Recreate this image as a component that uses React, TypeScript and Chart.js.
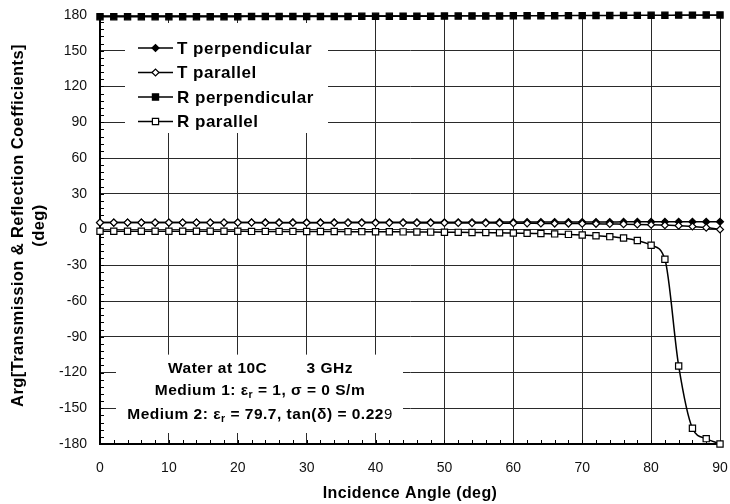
import React, { useEffect, useRef } from 'react';
import { Chart, registerables } from 'chart.js';

Chart.register(...registerables);

// ---------- data ----------
const angles = [0, 2, 4, 6, 8, 10, 12, 14, 16, 18, 20, 22, 24, 26, 28, 30, 32, 34, 36, 38, 40, 42, 44, 46, 48, 50, 52, 54, 56, 58, 60, 62, 64, 66, 68, 70, 72, 74, 76, 78, 80, 82, 84, 86, 88, 90];

const tPerp = [5.8, 5.8, 5.8, 5.8, 5.8, 5.8, 5.8, 5.8, 5.8, 5.8, 5.9, 5.9, 5.9, 5.9, 5.9, 5.9, 5.9, 5.9, 6.0, 6.0, 6.0, 6.0, 6.0, 6.0, 6.1, 6.1, 6.1, 6.1, 6.1, 6.2, 6.2, 6.2, 6.2, 6.3, 6.3, 6.3, 6.3, 6.3, 6.4, 6.4, 6.4, 6.4, 6.5, 6.5, 6.5, 6.5];

const tPar = [5.8, 5.8, 5.8, 5.8, 5.8, 5.8, 5.8, 5.8, 5.8, 5.8, 5.8, 5.8, 5.7, 5.7, 5.7, 5.7, 5.7, 5.7, 5.6, 5.6, 5.6, 5.6, 5.6, 5.5, 5.5, 5.5, 5.5, 5.4, 5.4, 5.3, 5.3, 5.2, 5.1, 5.0, 5.0, 4.9, 4.8, 4.6, 4.5, 4.3, 4.0, 3.6, 3.2, 2.5, 1.6, 0.0];

const rPerp = [178.6, 178.6, 178.6, 178.6, 178.6, 178.6, 178.6, 178.6, 178.6, 178.6, 178.6, 178.7, 178.7, 178.7, 178.7, 178.8, 178.8, 178.8, 178.8, 178.9, 178.9, 178.9, 179.0, 179.0, 179.0, 179.1, 179.1, 179.2, 179.2, 179.2, 179.3, 179.3, 179.4, 179.4, 179.5, 179.5, 179.6, 179.6, 179.7, 179.7, 179.8, 179.8, 179.9, 179.9, 180.0, 180.0];

const rPar = [-1.4, -1.4, -1.4, -1.4, -1.5, -1.5, -1.5, -1.5, -1.5, -1.5, -1.5, -1.6, -1.6, -1.6, -1.6, -1.7, -1.7, -1.7, -1.8, -1.8, -1.9, -1.9, -2.0, -2.1, -2.2, -2.3, -2.4, -2.5, -2.6, -2.8, -2.9, -3.2, -3.4, -3.7, -4.1, -4.6, -5.2, -6.0, -7.2, -9.3, -13.2, -25.0, -114.5, -166.8, -175.5, -180.0];

const seriesNames = ['T perpendicular', 'T parallel', 'R perpendicular', 'R parallel'];
const xTitle = 'Incidence Angle (deg)';
const yTitleLines = ['Arg[Transmission & Reflection Coefficients]', '(deg)'];
const noteTitle = ['Water at 10C', '3 GHz'];

const FONT = '"Liberation Sans", Arial, Helvetica, sans-serif';

type Marker = { style: 'diamond' | 'square'; filled: boolean };
const markers: Marker[] = [
  { style: 'diamond', filled: true },
  { style: 'diamond', filled: false },
  { style: 'square', filled: true },
  { style: 'square', filled: false },
];

function drawMarker(ctx: CanvasRenderingContext2D, m: Marker, x: number, y: number) {
  ctx.save();
  ctx.beginPath();
  if (m.style === 'diamond') {
    const r = 3.5;
    ctx.moveTo(x - r, y);
    ctx.lineTo(x, y - r);
    ctx.lineTo(x + r, y);
    ctx.lineTo(x, y + r);
    ctx.closePath();
  } else {
    const h = 3.1;
    ctx.rect(x - h, y - h, 2 * h, 2 * h);
  }
  ctx.fillStyle = m.filled ? '#000' : '#fff';
  ctx.fill();
  ctx.lineWidth = 1.2;
  ctx.strokeStyle = '#000';
  ctx.stroke();
  ctx.restore();
}

function segWidth(ctx: CanvasRenderingContext2D, segs: [string, string, number][]) {
  let w = 0;
  for (const [t, f] of segs) {
    ctx.font = f;
    w += ctx.measureText(t).width;
  }
  return w;
}
function drawSegs(ctx: CanvasRenderingContext2D, segs: [string, string, number][], cx: number, y: number) {
  const w = segWidth(ctx, segs);
  let x = cx - w / 2;
  for (const [t, f, dy] of segs) {
    ctx.font = f;
    ctx.fillText(t, x, y + dy);
    x += ctx.measureText(t).width;
  }
}

const decorPlugin = {
  id: 'decor',
  beforeDatasetsDraw(chart: any) {
    const ctx: CanvasRenderingContext2D = chart.ctx;
    const xs = chart.scales.x;
    const ys = chart.scales.y;
    const area = chart.chartArea;
    ctx.save();

    // minor ticks (inward)
    ctx.strokeStyle = '#000';
    ctx.lineWidth = 1;
    for (let v = 0; v <= 90; v += 2) {
      const px = Math.round(xs.getPixelForValue(v)) + 0.5;
      ctx.beginPath();
      ctx.moveTo(px, area.bottom);
      ctx.lineTo(px, area.bottom - 4);
      ctx.stroke();
    }
    for (let v = -180; v <= 180; v += 6) {
      const py = Math.round(ys.getPixelForValue(v)) + 0.5;
      ctx.beginPath();
      ctx.moveTo(area.left, py);
      ctx.lineTo(area.left + 4, py);
      ctx.stroke();
    }

    // legend box
    const lx = area.left + 25;
    const ly = area.top + 8;
    ctx.fillStyle = '#fff';
    ctx.fillRect(lx, ly, 203, 110);
    ctx.fillStyle = '#000';
    ctx.textBaseline = 'middle';
    ctx.textAlign = 'left';
    (ctx as any).letterSpacing = '0.5px';
    seriesNames.forEach((name, i) => {
      const yy = ly + 25 + i * 24.5;
      ctx.beginPath();
      ctx.moveTo(lx + 13, yy);
      ctx.lineTo(lx + 48, yy);
      ctx.lineWidth = 1.5;
      ctx.strokeStyle = '#000';
      ctx.stroke();
      drawMarker(ctx, markers[i], lx + 30.5, yy);
      ctx.fillStyle = '#000';
      ctx.font = `bold 17px ${FONT}`;
      ctx.fillText(name, lx + 52, yy + 1);
    });

    // note box
    const nx = area.left + 16;
    const ny = ys.getPixelForValue(-105);
    const nbottom = area.bottom - 11;
    ctx.fillStyle = '#fff';
    ctx.fillRect(nx, ny, 287, nbottom - ny);
    ctx.fillStyle = '#000';
    ctx.textBaseline = 'alphabetic';
    const cx = nx + 144;
    const bold = `bold 15.5px ${FONT}`;
    const sub = `bold 10.5px ${FONT}`;
    const reg = `15px ${FONT}`;
    ctx.font = bold;
    ctx.textAlign = 'left';
    ctx.fillText(noteTitle[0], cx - 92, ny + 18);
    ctx.textAlign = 'right';
    ctx.fillText(noteTitle[1], cx + 93, ny + 18);
    ctx.textAlign = 'left';
    drawSegs(ctx, [
      ['Medium 1: ε', bold, 0],
      ['r', sub, 3],
      [' = 1, σ = 0 S/m', bold, 0],
    ], cx, ny + 40);
    drawSegs(ctx, [
      ['Medium 2: ε', bold, 0],
      ['r', sub, 3],
      [' = 79.7, tan(δ) = 0.22', bold, 0],
      ['9', reg, 0],
    ], cx, ny + 64);

    // axis titles
    (ctx as any).letterSpacing = '0.4px';
    ctx.textAlign = 'center';
    ctx.textBaseline = 'middle';
    ctx.font = `bold 16px ${FONT}`;
    ctx.fillText(xTitle, (area.left + area.right) / 2, 494);
    const cy = (area.top + area.bottom) / 2 - 4;
    ctx.font = `bold 16.5px ${FONT}`;
    ctx.save();
    ctx.translate(18, cy);
    ctx.rotate(-Math.PI / 2);
    ctx.fillText(yTitleLines[0], 0, 0);
    ctx.restore();
    ctx.save();
    ctx.translate(39, cy);
    ctx.rotate(-Math.PI / 2);
    ctx.fillText(yTitleLines[1], 0, 0);
    ctx.restore();

    ctx.restore();
  },
};

function makeDataset(label: string, values: number[], m: Marker, order: number) {
  return {
    label,
    data: angles.map((a, i) => ({ x: a, y: values[i] })),
    borderColor: '#000',
    borderWidth: 1.5,
    backgroundColor: m.filled ? '#000' : '#fff',
    pointBackgroundColor: m.filled ? '#000' : '#fff',
    pointBorderColor: '#000',
    pointBorderWidth: 1.2,
    pointStyle: m.style === 'diamond' ? 'rectRot' : 'rect',
    pointRadius: m.style === 'diamond' ? 3.5 : 4.4,
    pointHoverRadius: m.style === 'diamond' ? 3.5 : 4.4,
    cubicInterpolationMode: 'monotone',
    fill: false,
    clip: 10,
    order,
  };
}

export default function App() {
  const ref = useRef<HTMLCanvasElement | null>(null);
  useEffect(() => {
    document.body.style.margin = '0';
    const canvas = ref.current!;
    const chart = new Chart(canvas, {
      type: 'line',
      data: {
        datasets: [
          makeDataset(seriesNames[0], tPerp, markers[0], 3),
          makeDataset(seriesNames[1], tPar, markers[1], 2),
          makeDataset(seriesNames[2], rPerp, markers[2], 1),
          makeDataset(seriesNames[3], rPar, markers[3], 0),
        ] as any,
      },
      options: {
        animation: false,
        responsive: false,
        devicePixelRatio: 1,
        events: [],
        layout: { padding: { left: 0, right: 10, top: 15, bottom: 0 } },
        plugins: {
          legend: { display: false },
          tooltip: { enabled: false },
          title: { display: false },
        },
        scales: {
          x: {
            type: 'linear',
            min: 0,
            max: 90,
            afterFit: (s: any) => {
              s.height = 60;
              s.paddingLeft = 0;
              s.paddingRight = 0;
            },
            ticks: {
              stepSize: 10,
              padding: 16,
              color: '#111',
              font: { family: FONT, size: 14 },
            },
            grid: { color: '#2a2a2a', lineWidth: 1, drawTicks: false },
            border: { color: '#000', width: 2 },
          },
          y: {
            type: 'linear',
            min: -180,
            max: 180,
            afterFit: (s: any) => {
              s.width = 100;
              s.paddingTop = 0;
              s.paddingBottom = 0;
            },
            ticks: {
              stepSize: 30,
              padding: 13,
              color: '#111',
              font: { family: FONT, size: 14 },
            },
            grid: { color: '#2a2a2a', lineWidth: 1, drawTicks: false },
            border: { color: '#000', width: 2 },
          },
        },
      } as any,
      plugins: [decorPlugin],
    });
    return () => chart.destroy();
  }, []);
  return (
    <div style={{ width: 730, height: 504 }}>
      <canvas ref={ref} width={730} height={504} style={{ display: 'block', width: 730, height: 504 }} />
    </div>
  );
}
